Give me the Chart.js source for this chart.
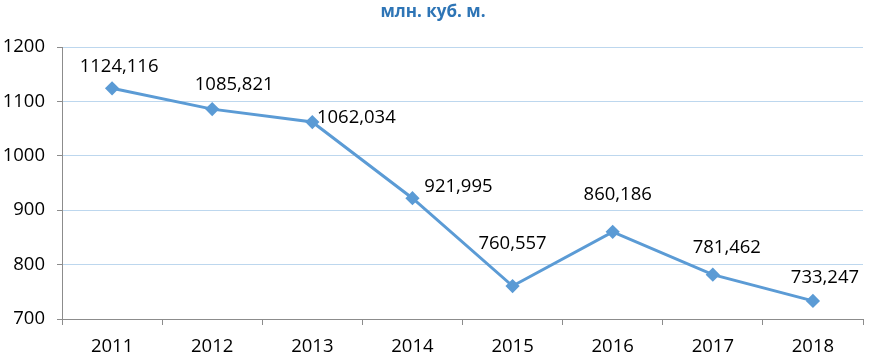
<!DOCTYPE html>
<html>
<head>
<meta charset="utf-8">
<script src="https://cdn.jsdelivr.net/npm/chart.js@4/dist/chart.umd.min.js"></script>
<style>
	html, body { margin: 0; padding: 0; background: #fff; }
	#wrap { width: 871px; height: 354px; position: relative; }
</style>
</head>
<body>
<div id="wrap"><canvas id="chart"></canvas></div>
<script>
var years = ['2011', '2012', '2013', '2014', '2015', '2016', '2017', '2018'];
var volumes = [1124.116, 1085.821, 1062.034, 921.995, 760.557, 860.186, 781.462, 733.247];
var titleText = 'млн. куб. м.';

// where each value label sits relative to its point (px)
var labelDx = [7, 22, 44, 46, 0, 5, 14, 12];
var labelDy = [-22, -24, -4, -12, -42, -37, -27, -23];

var fontFamily = '"Open Sans", "Noto Sans", sans-serif';

var valueLabels = {
	id: 'valueLabels',
	afterDatasetsDraw: function (chart) {
		var ctx = chart.ctx;
		var meta = chart.getDatasetMeta(0);
		ctx.save();
		ctx.font = '18.5px ' + fontFamily;
		ctx.fillStyle = '#000';
		ctx.textAlign = 'center';
		ctx.textBaseline = 'middle';
		meta.data.forEach(function (pt, i) {
			var txt = volumes[i].toFixed(3).replace('.', ',');
			ctx.fillText(txt, pt.x + labelDx[i], pt.y + labelDy[i]);
		});
		// title
		ctx.font = 'bold 17px ' + fontFamily;
		ctx.fillStyle = '#2e75b6';
		ctx.fillText(titleText, 433, 12);
		ctx.restore();
	}
};

var ctx = document.getElementById('chart').getContext('2d');
var chart = new Chart(ctx, {
	type: 'line',
	data: {
		labels: years,
		datasets: [{
			data: volumes,
			borderColor: '#5b9bd5',
			backgroundColor: '#5b9bd5',
			borderWidth: 3,
			pointStyle: 'rectRot',
			pointRadius: 5,
			pointHoverRadius: 5,
			tension: 0
		}]
	},
	options: {
		responsive: true,
		maintainAspectRatio: false,
		animation: false,
		layout: { padding: { top: 47, right: 5, left: 0, bottom: 0 } },
		plugins: {
			legend: { display: false },
			tooltip: { enabled: false },
			title: { display: false }
		},
		scales: {
			x: {
				offset: true,
				grid: {
					offset: true,
					drawOnChartArea: false,
					drawTicks: true,
					tickLength: 6,
					color: '#8c8c8c'
				},
				border: { color: '#8c8c8c', width: 1 },
				ticks: {
					color: '#000',
					font: { family: fontFamily, size: 18.5 },
					padding: 11
				},
				afterFit: function (scale) { scale.height = 35; }
			},
			y: {
				min: 700,
				max: 1200,
				ticks: {
					stepSize: 100,
					color: '#000',
					font: { family: fontFamily, size: 18.5 },
					padding: 12,
					callback: function (v) { return String(v); }
				},
				grid: {
					color: '#bdd7ee',
					tickColor: '#8c8c8c',
					tickLength: 5
				},
				border: { color: '#8c8c8c', width: 1 },
				afterFit: function (scale) { scale.width = 62; }
			}
		}
	},
	plugins: [valueLabels]
});
</script>
</body>
</html>
